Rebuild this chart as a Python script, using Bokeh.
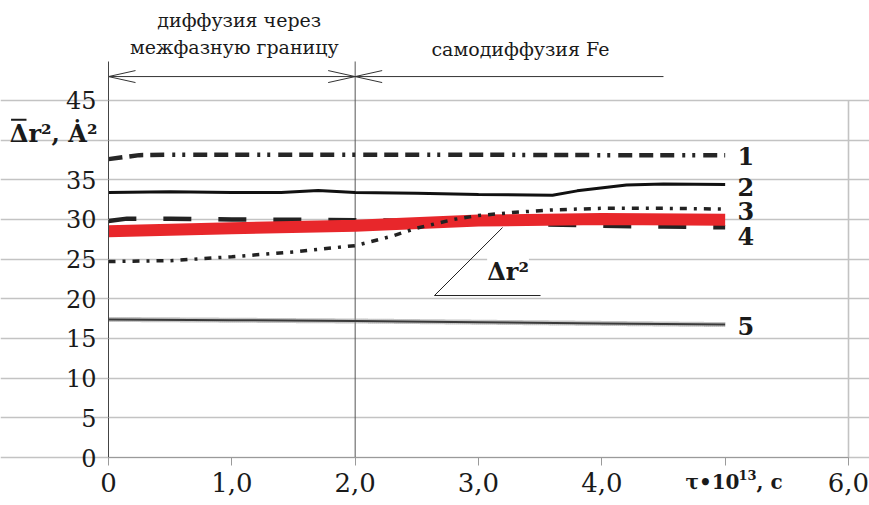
from bokeh.plotting import figure
from bokeh.models import Label, FixedTicker
from bokeh.embed import file_html
from bokeh.resources import INLINE

# ---- data ----
x_ticks = [0, 1, 2, 3, 4, 5, 6]
x_tick_labels = ["0", "1,0", "2,0", "3,0", "4,0", "", "6,0"]
y_ticks = [0, 5, 10, 15, 20, 25, 30, 35, 40, 45]
y_tick_labels = ["0", "5", "10", "15", "20", "25", "30", "35", "", "45"]

c1_x = [0, 0.25, 0.5, 1.0, 2.0, 3.0, 4.0, 5.0]
c1_y = [37.6, 38.1, 38.15, 38.15, 38.15, 38.15, 38.1, 38.1]

c2_x = [0, 0.5, 1.0, 1.4, 1.7, 2.0, 2.5, 3.0, 3.6, 3.8, 4.2, 4.5, 5.0]
c2_y = [33.4, 33.5, 33.4, 33.4, 33.65, 33.4, 33.3, 33.15, 33.05, 33.6, 34.35, 34.45, 34.4]

c3_x = [0, 0.5, 1.0, 1.5, 2.0, 2.3, 2.5, 2.8, 3.0, 3.3, 3.6, 4.0, 4.5, 5.0]
c3_y = [24.7, 24.8, 25.3, 25.9, 26.7, 27.9, 28.9, 30.0, 30.5, 30.9, 31.2, 31.4, 31.4, 31.3]

c4_x = [0, 0.15, 0.5, 1.0, 2.0, 2.5, 3.0, 3.5, 4.0, 4.5, 5.0]
c4_y = [29.8, 30.1, 30.1, 30.0, 29.9, 29.8, 29.6, 29.4, 29.2, 29.1, 29.0]

avg_x = [0, 1.0, 2.0, 3.0, 4.0, 5.0]
avg_y = [28.5, 28.9, 29.2, 29.85, 30.05, 29.95]

c5_x = [0, 1.0, 2.0, 3.0, 4.0, 5.0]
c5_y = [17.4, 17.3, 17.2, 17.05, 16.9, 16.75]

curve_names = ["1", "2", "3", "4", "5"]
boundary_x = 2.0
x_max = 6.0
y_top = 49.9  # top of the plotting area (axis line end)

SERIF = "DejaVu Serif"
INK = "#1a1a1a"

# frame covers the whole canvas; axes are pinned at 0 inside it
p = figure(width=869, height=505, x_range=(-0.8757, 6.1703), y_range=(-6.048, 57.586),
           output_backend="svg", toolbar_location=None,
           min_border_left=0, min_border_right=0, min_border_top=0, min_border_bottom=0)
p.outline_line_color = None
p.background_fill_color = "white"

p.xaxis.fixed_location = 0
p.yaxis.fixed_location = 0
p.xaxis.bounds = (0, x_max)
p.yaxis.bounds = (0, y_top)
p.xaxis.ticker = FixedTicker(ticks=x_ticks)
p.xaxis.major_label_overrides = {t: l for t, l in zip(x_ticks, x_tick_labels)}
p.yaxis.ticker = FixedTicker(ticks=y_ticks)
p.yaxis.major_label_overrides = {t: l for t, l in zip(y_ticks, y_tick_labels)}
for ax in (p.xaxis, p.yaxis):
    ax.minor_tick_line_color = None
    ax.major_tick_in = 0
    ax.major_label_text_font = SERIF
    ax.major_label_text_color = INK
p.xaxis.major_tick_out = 8
p.xaxis.major_label_standoff = 7
p.xaxis.major_label_text_font_size = "26px"
p.xaxis.axis_line_color = "#9a9a9a"
p.xaxis.major_tick_line_color = "#9a9a9a"
p.yaxis.major_tick_out = 10
p.yaxis.major_label_standoff = 2
p.yaxis.major_label_text_font_size = "24px"
p.yaxis.axis_line_color = "#444444"
p.yaxis.major_tick_line_color = "#c0c0c0"

p.xgrid.grid_line_color = None
p.ygrid.ticker = FixedTicker(ticks=y_ticks)
p.ygrid.bounds = (0, x_max)
p.ygrid.grid_line_color = "#c3c3c3"
p.ygrid.grid_line_width = 1.6

# right frame border
p.segment(x0=[x_max], y0=[y_ticks[0]], x1=[x_max], y1=[y_ticks[-1]],
          line_color="#c3c3c3", line_width=1.6)

# boundary line between the two regimes
p.segment(x0=[boundary_x], y0=[0], x1=[boundary_x], y1=[y_top],
          line_color="#555555", line_width=1)

# curves
p.line(c1_x, c1_y, line_color="#262626", line_width=4.5, line_dash="14 7 14 7 14 8 3 7 3 8")
p.line(c2_x, c2_y, line_color="#111111", line_width=3)
p.line(c4_x, c4_y, line_color="#222222", line_width=4.5, line_dash="28 27")
p.line(avg_x, avg_y, line_color="#e8272b", line_width=12)
p.line(c3_x, c3_y, line_color="#222222", line_width=3.5, line_dash="7 7 3 7")
p.line(c5_x, c5_y, line_color="#8a8a8a", line_width=5, line_dash="1 1")
p.line(c5_x, c5_y, line_color="#3a3a3a", line_width=2)

# curve numbers
num_y = [38.0, 34.1, 31.0, 27.9, 16.6]
for name, yy in zip(curve_names, num_y):
    p.add_layout(Label(x=5.1, y=yy, text=name, text_font=SERIF, text_font_size="24px",
                       text_font_style="bold", text_baseline="middle", text_color=INK))

# region arrows above the plot
ya = 48.0
dx = 0.219
dy = 0.756
seg_x0 = [0, 0, 0, boundary_x - dx, boundary_x - dx, boundary_x, boundary_x]
seg_y0 = [ya, ya, ya, ya + dy, ya - dy, ya, ya]
seg_x1 = [4.5, dx, dx, boundary_x, boundary_x, boundary_x + dx, boundary_x + dx]
seg_y1 = [ya, ya + dy, ya - dy, ya, ya, ya + dy, ya - dy]
p.segment(seg_x0, seg_y0, seg_x1, seg_y1, line_color="#333333", line_width=1)

# leader line for the mean curve
p.segment([3.195, 2.643], [28.98, 20.41], [2.643, 3.503], [20.41, 20.41],
          line_color="#222222", line_width=1)
p.add_layout(Label(x=3.07, y=21.67, text="Δr²", text_font=SERIF, text_font_size="24px",
                   text_font_style="bold", text_color=INK,
                   background_fill_color="white"))
p.segment([3.085], [24.75], [3.235], [24.75], line_color=INK, line_width=2)

# region titles
p.add_layout(Label(x=1.06, y=53.68, text="диффузия через", text_font=SERIF,
                   text_font_size="19px", text_align="center", text_color=INK))
p.add_layout(Label(x=1.02, y=50.4, text="межфазную границу", text_font=SERIF,
                   text_font_size="19px", text_align="center", text_color=INK))
p.add_layout(Label(x=3.34, y=50.03, text="самодиффузия Fe", text_font=SERIF,
                   text_font_size="19px", text_align="center", text_color=INK))

# axis titles
p.add_layout(Label(x=-0.80, y=38.94, text="Δr², Ȧ²", text_font=SERIF, text_font_size="24px",
                   text_font_style="bold", text_color=INK))
p.segment([-0.79], [42.55], [-0.665], [42.55], line_color=INK, line_width=2)
p.add_layout(Label(x=4.678, y=-4.54, text="τ•10", text_font=SERIF, text_font_size="20px",
                   text_font_style="bold", text_color=INK))
p.add_layout(Label(x=5.108, y=-2.85, text="13", text_font=SERIF, text_font_size="13px",
                   text_font_style="bold", text_color=INK))
p.add_layout(Label(x=5.254, y=-4.54, text=", с", text_font=SERIF, text_font_size="20px",
                   text_font_style="bold", text_color=INK))

open("out.html", "w").write(file_html(p, INLINE))
